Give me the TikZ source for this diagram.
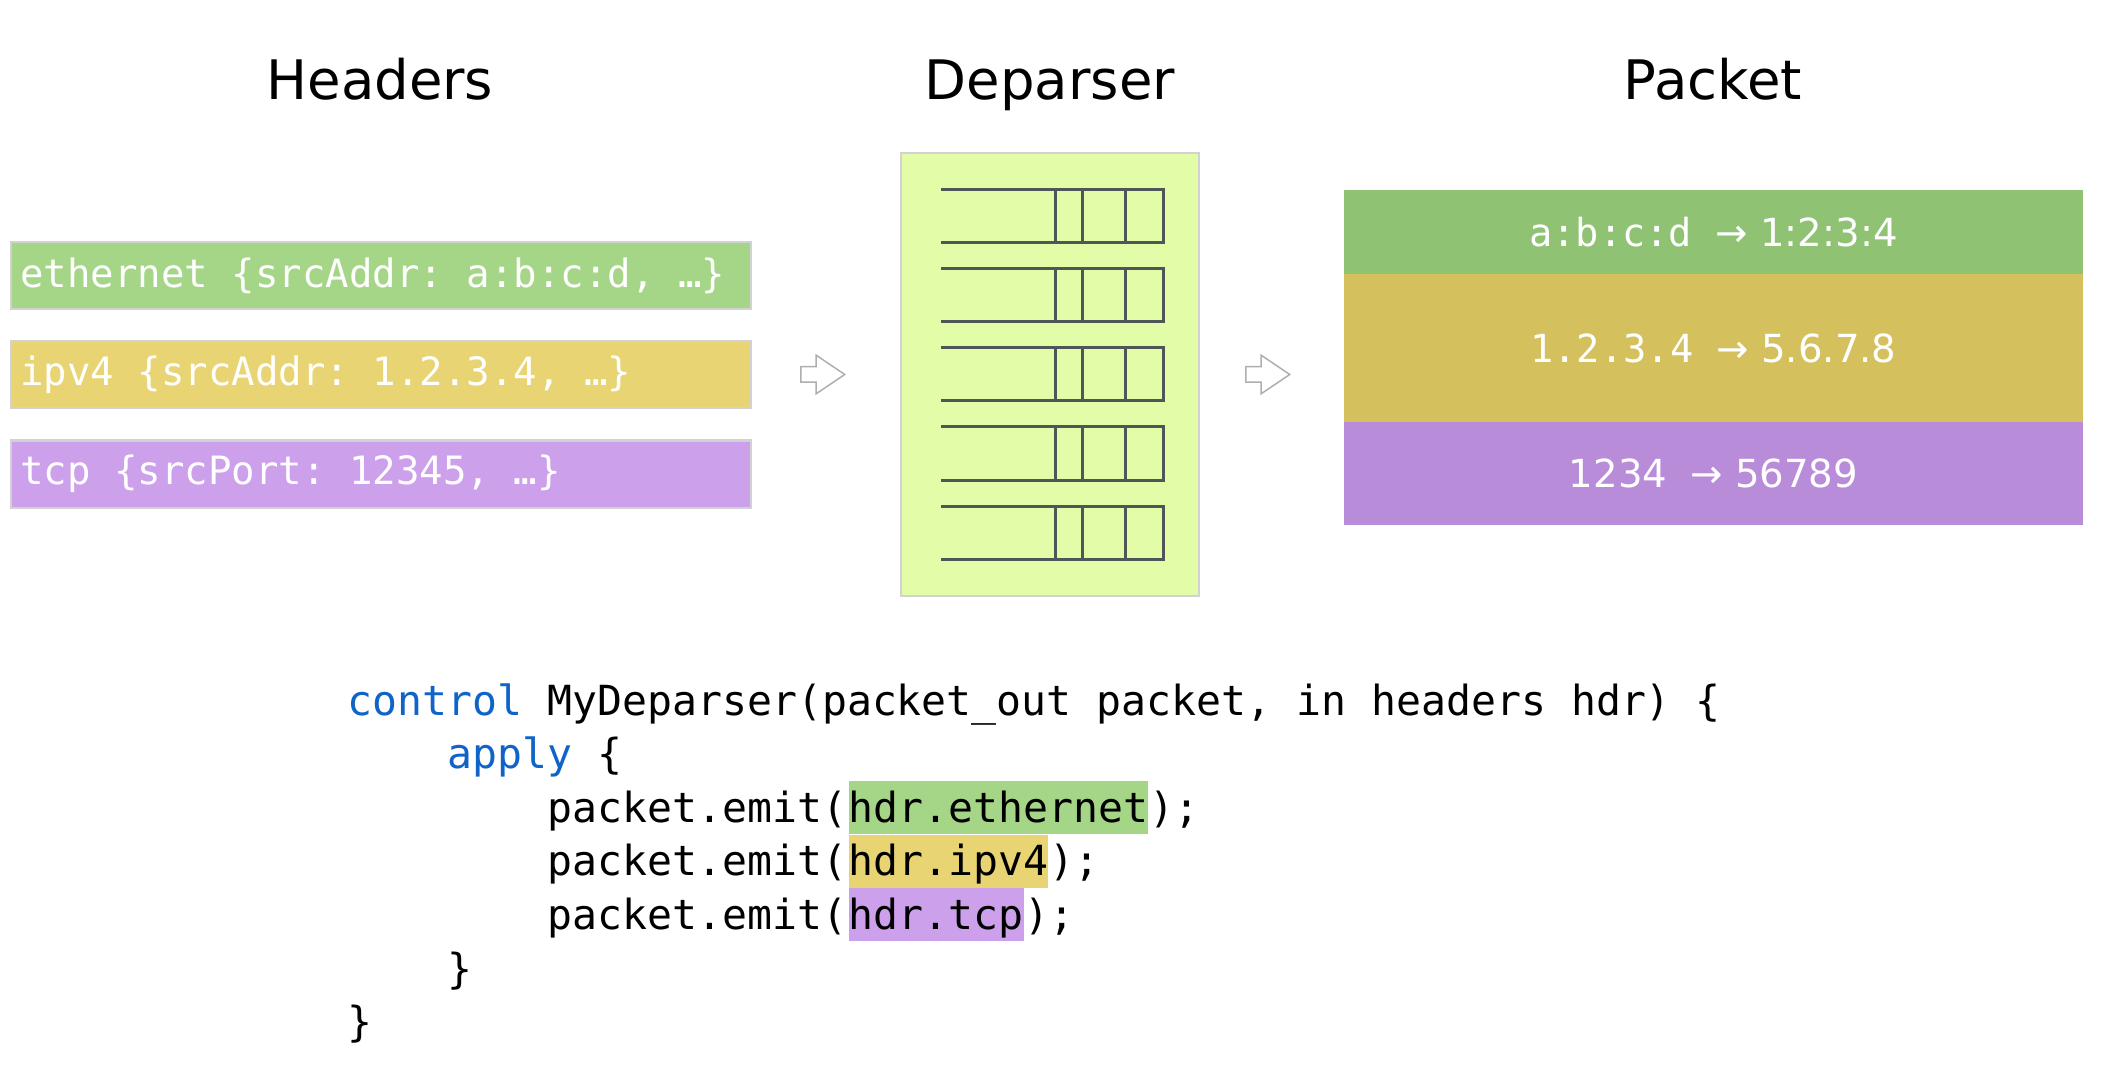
\documentclass[tikz,border=0pt]{standalone}
\usepackage{fontspec}
\setmainfont{DejaVu Sans}
\newfontfamily\codefont{DejaVu Sans Mono}
\usetikzlibrary{positioning,shapes.arrows}
\definecolor{hdrgreen}{RGB}{165,214,135}
\definecolor{hdryellow}{RGB}{232,212,115}
\definecolor{hdrpurple}{RGB}{205,160,236}
\definecolor{pktgreen}{RGB}{143,194,115}
\definecolor{pktyellow}{RGB}{212,192,93}
\definecolor{pktpurple}{RGB}{185,140,218}
\definecolor{depfill}{RGB}{226,252,168}
\definecolor{boxgray}{RGB}{210,210,210}
\definecolor{queuegray}{RGB}{80,85,88}
\definecolor{arrowgray}{RGB}{175,175,175}
\definecolor{kwblue}{RGB}{16,100,200}
\newcommand{\kw}[1]{\textcolor{kwblue}{#1}}
\newcommand{\hdrtext}[1]{\makebox[7.2cm][l]{#1}}
\frenchspacing

\begin{document}
\begin{tikzpicture}[
    title/.style={anchor=base, font=\fontsize{15.5}{18}\selectfont},
    hdrbox/.style={draw=boxgray, line width=0.02cm, text=white, anchor=west, minimum height=0.67cm,
        inner xsep=0.1cm, font=\codefont\fontsize{11.1}{13}\selectfont},
    band/.style={minimum width=7.39cm, text=white, inner sep=0pt, outer sep=0pt, font=\fontsize{11}{13}\selectfont},
    code/.style={anchor=base west, inner sep=0pt, font=\codefont\fontsize{11.8}{14}\selectfont},
    hl/.style={code, text height=0.41cm, text depth=0.12cm},
    queue/.style={draw=queuegray, line width=0.03cm},
    flow/.style={single arrow, draw=arrowgray, fill=white, line width=0.015cm, minimum height=0.44cm,
        inner xsep=0pt, inner ysep=0.07cm, single arrow head extend=0.115cm, single arrow tip angle=68}
]
    \useasboundingbox (0,0) rectangle (21.19,-10.86);

    % Titles
    \node[title] (thdr) at (3.80,-1.00) {Headers};
    \node[title] (tdep) at (10.50,-1.00) {Deparser};
    \node[title] (tpkt) at (17.13,-1.00) {Packet};

    % Header instances
    \node[hdrbox, fill=hdrgreen] (hdreth) at (0.095,-2.755) {\hdrtext{ethernet \{srcAddr: a:b:c:d, …\}}};
    \node[hdrbox, fill=hdryellow] (hdrip) at (0.095,-3.75) {\hdrtext{ipv4 \{srcAddr: 1.2.3.4, …\}}};
    \node[hdrbox, fill=hdrpurple] (hdrtcp) at (0.095,-4.74) {\hdrtext{tcp \{srcPort: 12345, …\}}};

    \node[flow] (arrin) at (8.17,-3.745) {};

    % Deparser with its queues
    \node[draw=boxgray, fill=depfill, line width=0.02cm, minimum width=2.98cm, minimum height=4.43cm] (dep) at (10.50,-3.745) {};
    \foreach \yt [evaluate=\yt as \yb using \yt-0.53] in {-1.90,-2.69,-3.48,-4.27,-5.06} {
        \draw[queue] (9.41,\yt) -- (11.63,\yt) -- (11.63,\yb) -- (9.41,\yb);
        \foreach \x in {10.55,10.82,11.25}
            \draw[queue] (\x,\yt) -- (\x,\yb);
    }

    \node[flow] (arrout) at (12.62,-3.745) {};

    % Output packet
    \node[band, fill=pktgreen, minimum height=0.84cm, anchor=north west] (pkteth) at (13.44,-1.90)
        {{\codefont a:b:c:d }→ 1:2:3:4};
    \node[band, fill=pktyellow, minimum height=1.48cm, below=0pt of pkteth] (pktip)
        {{\codefont 1.2.3.4 }→ 5.6.7.8};
    \node[band, fill=pktpurple, minimum height=1.03cm, below=0pt of pktip] (pkttcp)
        {1234{\codefont\ }→ 56789};

    % P4 code
    \node[code] (line1) at (3.47,-7.15) {\kw{control} MyDeparser(packet\_out packet, in headers hdr) \{};
    \node[code] (line2) at (4.47,-7.686) {\kw{apply} \{};
    \node[code] (emit1) at (5.47,-8.222) {packet.emit(};
    \node[hl, fill=hdrgreen] (hleth) at (emit1.base east) {hdr.ethernet};
    \node[code] (end1) at (hleth.base east) {);};
    \node[code] (emit2) at (5.47,-8.758) {packet.emit(};
    \node[hl, fill=hdryellow] (hlip) at (emit2.base east) {hdr.ipv4};
    \node[code] (end2) at (hlip.base east) {);};
    \node[code] (emit3) at (5.47,-9.294) {packet.emit(};
    \node[hl, fill=hdrpurple] (hltcp) at (emit3.base east) {hdr.tcp};
    \node[code] (end3) at (hltcp.base east) {);};
    \node[code] (line6) at (4.47,-9.83) {\}};
    \node[code] (line7) at (3.47,-10.366) {\}};
\end{tikzpicture}
\end{document}
